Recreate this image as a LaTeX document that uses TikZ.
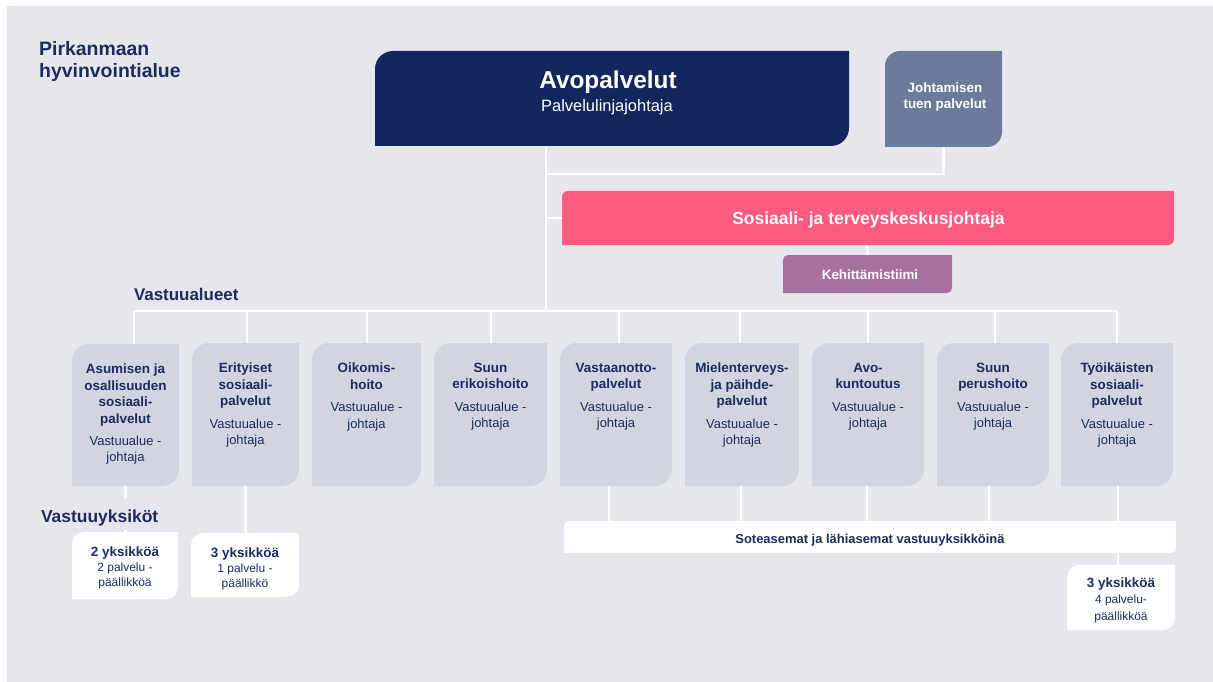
\documentclass[tikz,border=0pt]{standalone}
\usepackage{fontspec}
\setmainfont{Liberation Sans}
\usetikzlibrary{fit,calc}
\definecolor{bg}{HTML}{E6E7ED}
\definecolor{navy}{HTML}{12285C}
\definecolor{slate}{HTML}{6D7B9B}
\definecolor{pinkc}{HTML}{FF5A80}
\definecolor{mauve}{HTML}{A8709F}
\definecolor{grayb}{HTML}{D1D5DF}
\definecolor{ink}{HTML}{1B2C5E}
\pgfdeclarelayer{back}
\pgfdeclarelayer{shapes}
\pgfsetlayers{back,shapes,main}
\newcommand\leaf[3]{%
  \fill[#2] (#1.south west) -- ([yshift=-#3]#1.north west)
    arc[start angle=180,end angle=90,radius=#3] -- (#1.north east)
    -- ([yshift=#3]#1.south east)
    arc[start angle=0,end angle=-90,radius=#3] -- cycle;}
\newcommand\B[1]{\textbf{#1}}
\newcommand\R[1]{{\fontsize{13}{16.5}\selectfont #1}}
\tikzset{
  area/.style={inner sep=0pt,outer sep=0pt},
  boxtxt/.style={inner sep=0pt,outer sep=0pt,align=center,text=ink,font=\fontsize{13.5}{16.5}\selectfont},
  wtxt/.style={inner sep=0pt,outer sep=0pt,align=center,text=white},
  hdr/.style={inner sep=0pt,outer sep=0pt,text=ink,font=\bfseries\fontsize{17}{20}\selectfont},
  link/.style={draw=white,line width=2.5bp},
}
\begin{document}
\begin{tikzpicture}[x=1bp,y=1bp]
\useasboundingbox (0,0) rectangle (1213,-682);
% ---- box areas
\node[area,fit={(375,-51) (849,-146)}] (nb) {};
\node[area,fit={(885,-51) (1002,-147)}] (jt) {};
\node[area,fit={(562,-191) (1174,-245)}] (pk) {};
\node[area,fit={(783,-255) (952,-293)}] (kt) {};
\node[area,fit={(72,-344) (179,-486)}] (b1) {};
\node[area,fit={(192,-343) (299,-486)}] (b2) {};
\node[area,fit={(312,-343) (421,-486)}] (b3) {};
\node[area,fit={(434,-343) (547,-486)}] (b4) {};
\node[area,fit={(560,-343) (672,-486)}] (b5) {};
\node[area,fit={(685,-343) (799,-486)}] (b6) {};
\node[area,fit={(812,-343) (924,-486)}] (b7) {};
\node[area,fit={(937,-343) (1049,-486)}] (b8) {};
\node[area,fit={(1061,-343) (1173,-486)}] (b9) {};
\node[area,fit={(72,-532) (178,-599)}] (y1) {};
\node[area,fit={(191,-533) (299,-597)}] (y2) {};
\node[area,fit={(1067,-565) (1175,-630)}] (y3) {};
\node[area,fit={(564,-521) (1176,-553)}] (so) {};
% ---- connector coordinates
\coordinate (trunk) at (546,-311);
\coordinate (jj) at (546,-174);
\coordinate (busL) at (134,-311);
\coordinate (busR) at (1117,-311);
\coordinate (d1) at (134,-311);
\coordinate (d2) at (247,-311);
\coordinate (d3) at (367,-311);
\coordinate (d4) at (491,-311);
\coordinate (d5) at (619,-311);
\coordinate (d6) at (740,-311);
\coordinate (d7) at (868,-311);
\coordinate (d8) at (995,-311);
\coordinate (d9) at (1117,-311);
\coordinate (e5) at (609,-486);
\coordinate (e6) at (741,-486);
\coordinate (e7) at (867,-486);
\coordinate (e8) at (989,-486);
\coordinate (e9) at (1118,-486);
% ---- texts
\node[anchor=north west,inner sep=0pt,align=left,text=ink,font=\bfseries\fontsize{19.5}{22}\selectfont] (title) at (39,-41.5) {Pirkanmaan\\hyvinvointialue};
\node[wtxt,anchor=base,font=\bfseries\fontsize{24.5}{28}\selectfont] (avo) at (608,-89) {Avopalvelut};
\node[wtxt,anchor=base,font=\fontsize{16.5}{20}\selectfont] (plj) at (607,-111.7) {Palvelulinjajohtaja};
\node[wtxt,anchor=north,font=\bfseries\fontsize{13.5}{16}\selectfont] (jtt) at (945,-82.5) {Johtamisen\\tuen palvelut};
\node[wtxt,anchor=base,font=\bfseries\fontsize{17.5}{20}\selectfont] (pkt) at (868.5,-225) {Sosiaali- ja terveyskeskusjohtaja};
\node[wtxt,anchor=base,font=\bfseries\fontsize{13.5}{16}\selectfont] (ktt) at (870,-279) {Kehittämistiimi};
\node[hdr,anchor=base west] (vastal) at (134,-300) {Vastuualueet};
\node[hdr,anchor=base west,font=\bfseries\fontsize{17.5}{20}\selectfont,fill=bg,text height=24bp,text depth=7.5bp] (vastyk) at (41,-522.7) {Vastuuyksiköt};
\node[boxtxt,anchor=north] (t1) at ([yshift=-20bp]b1.north) {\B{Asumisen ja}\\\B{osallisuuden}\\\B{sosiaali-}\\\B{palvelut}\\[6bp]\R{Vastuualue -}\\\R{johtaja}};
\node[boxtxt,anchor=north] (t2) at ([yshift=-20bp]b2.north) {\B{Erityiset}\\\B{sosiaali-}\\\B{palvelut}\\[6bp]\R{Vastuualue -}\\\R{johtaja}};
\node[boxtxt,anchor=north] (t3) at ([yshift=-20bp]b3.north) {\B{Oikomis-}\\\B{hoito}\\[6bp]\R{Vastuualue -}\\\R{johtaja}};
\node[boxtxt,anchor=north] (t4) at ([yshift=-20bp]b4.north) {\B{Suun}\\\B{erikoishoito}\\[6bp]\R{Vastuualue -}\\\R{johtaja}};
\node[boxtxt,anchor=north] (t5) at ([yshift=-20bp]b5.north) {\B{Vastaanotto-}\\\B{palvelut}\\[6bp]\R{Vastuualue -}\\\R{johtaja}};
\node[boxtxt,anchor=north] (t6) at ([yshift=-20bp]b6.north) {\B{Mielenterveys-}\\\B{ja päihde-}\\\B{palvelut}\\[6bp]\R{Vastuualue -}\\\R{johtaja}};
\node[boxtxt,anchor=north] (t7) at ([yshift=-20bp]b7.north) {\B{Avo-}\\\B{kuntoutus}\\[6bp]\R{Vastuualue -}\\\R{johtaja}};
\node[boxtxt,anchor=north] (t8) at ([yshift=-20bp]b8.north) {\B{Suun}\\\B{perushoito}\\[6bp]\R{Vastuualue -}\\\R{johtaja}};
\node[boxtxt,anchor=north] (t9) at ([yshift=-20bp]b9.north) {\B{Työikäisten}\\\B{sosiaali-}\\\B{palvelut}\\[6bp]\R{Vastuualue -}\\\R{johtaja}};
\node[boxtxt,anchor=north,font=\fontsize{12}{15}\selectfont] (y1t) at ([yshift=-15bp]y1.north) {\B{\fontsize{13.5}{15}\selectfont 2 yksikköä}\\2 palvelu -\\päällikköä};
\node[boxtxt,anchor=north,font=\fontsize{12}{15}\selectfont] (y2t) at ([yshift=-15bp]y2.north) {\B{\fontsize{13.5}{15}\selectfont 3 yksikköä}\\1 palvelu -\\päällikkö};
\node[boxtxt,anchor=north,font=\fontsize{12}{16.5}\selectfont] (y3t) at ([yshift=-12.5bp]y3.north) {\B{\fontsize{13.5}{16.5}\selectfont 3 yksikköä}\\4 palvelu-\\päällikköä};
\node[boxtxt,anchor=base,font=\bfseries\fontsize{13}{15}\selectfont] (sot) at ([yshift=-6bp]so.center) {Soteasemat ja lähiasemat vastuuyksikköinä};
% ---- background and connectors
\begin{pgfonlayer}{back}
\fill[white] (0,0) rectangle (1213,-682);
\fill[bg] (7,-6) rectangle (1213,-682);
\begin{scope}[link]
\draw (nb.south -| trunk) -- (trunk);
\draw (jt.south) |- (jj);
\draw (pk.west) -- (pk.west -| trunk);
\draw (kt.north |- pk.south) -- (kt.north);
\draw (busL) -- (busR);
\foreach \i in {1,...,9} {\draw (d\i) -- (d\i |- b\i.north);}
\draw (b1.south) -- (b1.south |- y1.north);
\draw (b2.south) -- (b2.south |- y2.north);
\foreach \i in {5,...,9} {\draw (e\i) -- (e\i |- so.north);}
\draw (so.south -| e9) -- (y3.north -| e9);
\end{scope}
\end{pgfonlayer}
% ---- box shapes
\begin{pgfonlayer}{shapes}
\leaf{nb}{navy}{18bp}
\leaf{jt}{slate}{15bp}
\leaf{pk}{pinkc}{6bp}
\leaf{kt}{mauve}{5bp}
\foreach \i in {1,...,9} {\leaf{b\i}{grayb}{17bp}}
\leaf{y1}{white}{12bp}
\leaf{y2}{white}{12bp}
\leaf{y3}{white}{12bp}
\leaf{so}{white}{5bp}
\end{pgfonlayer}
\end{tikzpicture}
\end{document}
